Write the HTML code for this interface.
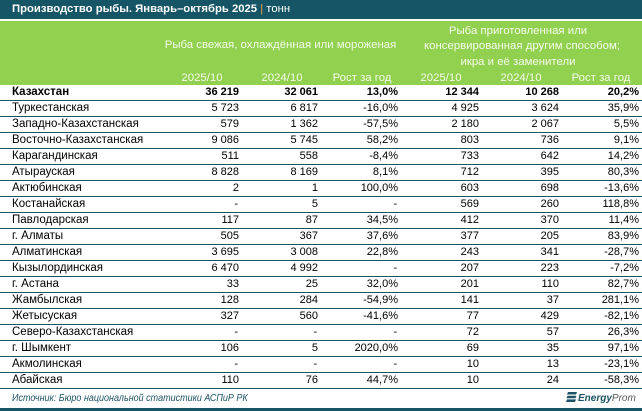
<!DOCTYPE html>
<html><head><meta charset="utf-8">
<style>
*{margin:0;padding:0;box-sizing:border-box}
body{width:642px;height:411px;position:relative;background:#fff;font-family:"Liberation Sans",sans-serif;overflow:hidden;color:#000}
.title{position:absolute;left:0;top:0;width:642px;height:19px;background:#155566;color:#fff;font-size:11.3px;line-height:19px;padding-left:12px;white-space:nowrap}
.title b{font-weight:bold}
.title .bar{color:#f0a040}
.hdr{position:absolute;left:0;top:21px;width:642px;height:64px;background:#92d050}
.h{position:absolute;color:#f4fbe9;font-size:11.4px;white-space:nowrap;line-height:13px}
.row{position:absolute;left:0;width:642px;height:16px;border-bottom:1px solid #1d5364}
.c{position:absolute;top:0;font-size:11px;line-height:15px;white-space:nowrap}
.n{left:12px;font-size:11.5px}
.r{text-align:right;width:80px}
.k .c{font-weight:bold}
.src{position:absolute;left:12px;top:392px;font-size:10px;font-style:italic;color:#1d5364;line-height:14px;white-space:nowrap;transform:scaleX(0.9);transform-origin:left center}
.bot{position:absolute;left:0;top:408px;width:642px;height:3px;background:#155566}
.logo{position:absolute;left:578px;top:393px;font-size:10px;font-style:italic;line-height:11px;white-space:nowrap;color:#1d5364}
.logo b{font-weight:bold}
.logo span{color:#555}
</style></head><body>
<div class="title"><b>Производство рыбы. Январь–октябрь 2025</b> <span class="bar">|</span> тонн</div>
<div class="hdr"></div>
<div class="h" style="left:160px;top:39px;width:241px;text-align:center">Рыба свежая, охлаждённая или мороженая</div>
<div class="h" style="left:400px;top:25px;width:236px;text-align:center">Рыба приготовленная или</div>
<div class="h" style="left:400px;top:40px;width:244px;text-align:center">консервированная другим способом;</div>
<div class="h" style="left:400px;top:56px;width:236px;text-align:center">икра и её заменители</div>
<div class="h" style="left:162px;top:72px;width:80px;text-align:center">2025/10</div>
<div class="h" style="left:242px;top:72px;width:80px;text-align:center">2024/10</div>
<div class="h" style="left:322px;top:72px;width:80px;text-align:center">Рост за год</div>
<div class="h" style="left:401px;top:72px;width:80px;text-align:center">2025/10</div>
<div class="h" style="left:481px;top:72px;width:80px;text-align:center">2024/10</div>
<div class="h" style="left:561px;top:72px;width:80px;text-align:center">Рост за год</div>

<div class="row k" style="top:85px"><span class="c n">Казахстан</span><span class="c r" style="left:159px">36 219</span><span class="c r" style="left:238px">32 061</span><span class="c r" style="left:318px">13,0%</span><span class="c r" style="left:399px">12 344</span><span class="c r" style="left:479px">10 268</span><span class="c r" style="left:559px">20,2%</span></div>
<div class="row" style="top:101px"><span class="c n">Туркестанская</span><span class="c r" style="left:159px">5 723</span><span class="c r" style="left:238px">6 817</span><span class="c r" style="left:318px">-16,0%</span><span class="c r" style="left:399px">4 925</span><span class="c r" style="left:479px">3 624</span><span class="c r" style="left:559px">35,9%</span></div>
<div class="row" style="top:117px"><span class="c n">Западно-Казахстанская</span><span class="c r" style="left:159px">579</span><span class="c r" style="left:238px">1 362</span><span class="c r" style="left:318px">-57,5%</span><span class="c r" style="left:399px">2 180</span><span class="c r" style="left:479px">2 067</span><span class="c r" style="left:559px">5,5%</span></div>
<div class="row" style="top:133px"><span class="c n">Восточно-Казахстанская</span><span class="c r" style="left:159px">9 086</span><span class="c r" style="left:238px">5 745</span><span class="c r" style="left:318px">58,2%</span><span class="c r" style="left:399px">803</span><span class="c r" style="left:479px">736</span><span class="c r" style="left:559px">9,1%</span></div>
<div class="row" style="top:149px"><span class="c n">Карагандинская</span><span class="c r" style="left:159px">511</span><span class="c r" style="left:238px">558</span><span class="c r" style="left:318px">-8,4%</span><span class="c r" style="left:399px">733</span><span class="c r" style="left:479px">642</span><span class="c r" style="left:559px">14,2%</span></div>
<div class="row" style="top:165px"><span class="c n">Атырауская</span><span class="c r" style="left:159px">8 828</span><span class="c r" style="left:238px">8 169</span><span class="c r" style="left:318px">8,1%</span><span class="c r" style="left:399px">712</span><span class="c r" style="left:479px">395</span><span class="c r" style="left:559px">80,3%</span></div>
<div class="row" style="top:181px"><span class="c n">Актюбинская</span><span class="c r" style="left:159px">2</span><span class="c r" style="left:238px">1</span><span class="c r" style="left:318px">100,0%</span><span class="c r" style="left:399px">603</span><span class="c r" style="left:479px">698</span><span class="c r" style="left:559px">-13,6%</span></div>
<div class="row" style="top:197px"><span class="c n">Костанайская</span><span class="c r" style="left:158px">-</span><span class="c r" style="left:238px">5</span><span class="c r" style="left:317px">-</span><span class="c r" style="left:399px">569</span><span class="c r" style="left:479px">260</span><span class="c r" style="left:559px">118,8%</span></div>
<div class="row" style="top:213px"><span class="c n">Павлодарская</span><span class="c r" style="left:159px">117</span><span class="c r" style="left:238px">87</span><span class="c r" style="left:318px">34,5%</span><span class="c r" style="left:399px">412</span><span class="c r" style="left:479px">370</span><span class="c r" style="left:559px">11,4%</span></div>
<div class="row" style="top:229px"><span class="c n">г. Алматы</span><span class="c r" style="left:159px">505</span><span class="c r" style="left:238px">367</span><span class="c r" style="left:318px">37,6%</span><span class="c r" style="left:399px">377</span><span class="c r" style="left:479px">205</span><span class="c r" style="left:559px">83,9%</span></div>
<div class="row" style="top:245px"><span class="c n">Алматинская</span><span class="c r" style="left:159px">3 695</span><span class="c r" style="left:238px">3 008</span><span class="c r" style="left:318px">22,8%</span><span class="c r" style="left:399px">243</span><span class="c r" style="left:479px">341</span><span class="c r" style="left:559px">-28,7%</span></div>
<div class="row" style="top:261px"><span class="c n">Кызылординская</span><span class="c r" style="left:159px">6 470</span><span class="c r" style="left:238px">4 992</span><span class="c r" style="left:317px">-</span><span class="c r" style="left:399px">207</span><span class="c r" style="left:479px">223</span><span class="c r" style="left:559px">-7,2%</span></div>
<div class="row" style="top:277px"><span class="c n">г. Астана</span><span class="c r" style="left:159px">33</span><span class="c r" style="left:238px">25</span><span class="c r" style="left:318px">32,0%</span><span class="c r" style="left:399px">201</span><span class="c r" style="left:479px">110</span><span class="c r" style="left:559px">82,7%</span></div>
<div class="row" style="top:293px"><span class="c n">Жамбылская</span><span class="c r" style="left:159px">128</span><span class="c r" style="left:238px">284</span><span class="c r" style="left:318px">-54,9%</span><span class="c r" style="left:399px">141</span><span class="c r" style="left:479px">37</span><span class="c r" style="left:559px">281,1%</span></div>
<div class="row" style="top:309px"><span class="c n">Жетысуская</span><span class="c r" style="left:159px">327</span><span class="c r" style="left:238px">560</span><span class="c r" style="left:318px">-41,6%</span><span class="c r" style="left:399px">77</span><span class="c r" style="left:479px">429</span><span class="c r" style="left:559px">-82,1%</span></div>
<div class="row" style="top:325px"><span class="c n">Северо-Казахстанская</span><span class="c r" style="left:158px">-</span><span class="c r" style="left:237px">-</span><span class="c r" style="left:317px">-</span><span class="c r" style="left:399px">72</span><span class="c r" style="left:479px">57</span><span class="c r" style="left:559px">26,3%</span></div>
<div class="row" style="top:341px"><span class="c n">г. Шымкент</span><span class="c r" style="left:159px">106</span><span class="c r" style="left:238px">5</span><span class="c r" style="left:318px">2020,0%</span><span class="c r" style="left:399px">69</span><span class="c r" style="left:479px">35</span><span class="c r" style="left:559px">97,1%</span></div>
<div class="row" style="top:357px"><span class="c n">Акмолинская</span><span class="c r" style="left:158px">-</span><span class="c r" style="left:237px">-</span><span class="c r" style="left:317px">-</span><span class="c r" style="left:399px">10</span><span class="c r" style="left:479px">13</span><span class="c r" style="left:559px">-23,1%</span></div>
<div class="row" style="top:373px"><span class="c n">Абайская</span><span class="c r" style="left:159px">110</span><span class="c r" style="left:238px">76</span><span class="c r" style="left:318px">44,7%</span><span class="c r" style="left:399px">10</span><span class="c r" style="left:479px">24</span><span class="c r" style="left:559px">-58,3%</span></div>

<div class="src">Источник: Бюро национальной статистики АСПиР РК</div>
<svg style="position:absolute;left:566px;top:392px" width="11" height="10" viewBox="0 0 11 10">
<polygon points="2,0 11,0 10,2.5 1,2.5" fill="#1d5364"/>
<polygon points="1.5,3.7 10.5,3.7 9.5,6.2 0.5,6.2" fill="#1d5364"/>
<polygon points="1,7.4 10,7.4 9,10 0,10" fill="#1d5364"/>
</svg>
<div class="logo"><b>Energy</b><span>Prom</span></div>
<div class="bot"></div>
</body></html>
